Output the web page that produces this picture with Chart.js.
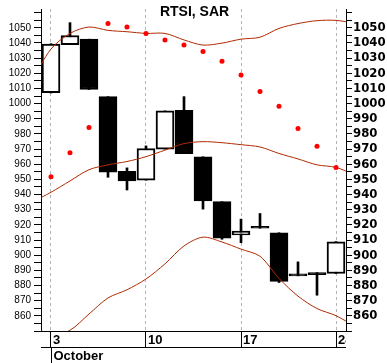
<!DOCTYPE html>
<html>
<head>
<meta charset="utf-8">
<script src="https://cdn.jsdelivr.net/npm/chart.js@4.4.1/dist/chart.umd.min.js"></script>
<style>
  body { margin: 0; background: #fff; }
  #wrap { width: 387px; height: 363px; }
</style>
</head>
<body>
<div id="wrap"><canvas id="rtsiChart" width="387" height="363"></canvas></div>
<script>
// trading days of October, one slot per day
const days = ['3', '4', '5', '6', '7', '10', '11', '12', '13', '14', '17', '18', '19', '20', '21', '24'];
const openPrice  = [1007.2, 1038.9, 1042.5, 1004.6, 955.4, 949.5, 970.0, 995.5, 964.9, 935.3, 913.3, 919.1, 914.8, 887.7, 888.5, 887.9];
const closePrice = [1039.3, 1044.9, 1009.3, 954.8, 949.0, 970.4, 995.2, 967.0, 935.8, 911.2, 915.9, 917.8, 882.7, 886.4, 887.2, 908.8];
const highPrice  = [1039.5, 1053.4, 1042.5, 1004.6, 957.6, 972.1, 995.2, 1004.6, 964.9, 935.3, 923.8, 927.5, 914.8, 895.6, 888.5, 909.0];
const lowPrice   = [1007.0, 1038.9, 1009.3, 951.4, 943.0, 949.5, 970.0, 967.0, 930.4, 910.5, 908.2, 917.8, 882.0, 886.4, 873.6, 887.9];
const sar        = [951.7, 967.5, 984.2, 1052.8, 1050.6, 1046.3, 1042.0, 1038.6, 1034.3, 1027.9, 1018.9, 1008.0, 998.2, 983.6, 971.8, 957.9];

// bands run from Sep 30 (slot -1) to Oct 25 (slot 16), cut by the plot edges
const bandSlots = [-1, 0, 1, 2, 3, 4, 5, 6, 7, 8, 9, 10, 11, 12, 13, 14, 15, 16];
const upperBand  = [1015, 1036, 1046.3, 1050.5, 1048.3, 1047.4, 1046.3, 1046.3, 1042, 1038.6, 1039.9, 1042.5, 1043.8, 1049.6, 1052.8, 1054.7, 1054.9, 1053];
const middleBand = [935, 941.5, 949, 956.4, 959.6, 961.8, 965, 969.3, 973.6, 974.9, 974.2, 972.9, 971.4, 967.1, 963.5, 959.6, 957.9, 953];
const lowerBand  = [855, 847, 850.5, 861.2, 871.8, 877.2, 884.3, 894.3, 906.1, 911.9, 908.7, 904, 899.3, 884.7, 873, 864.8, 860.1, 853];

const dayTicks = [0, 5, 10, 15];
const dayTickLabels = ['3', '10', '17', '24'];
const monthLabel = 'October';
const priceLabels = [860, 870, 880, 890, 900, 910, 920, 930, 940, 950, 960, 970, 980, 990, 1000, 1010, 1020, 1030, 1040, 1050];
const title = 'RTSI, SAR';

const bandColor = '#b02a00';

const bodies = days.map((d, i) => ({ x: i, y: [openPrice[i], closePrice[i]] }));
const wicks = days.map((d, i) => ({ x: i, y: [lowPrice[i], highPrice[i]] }));
const sarPoints = days.map((d, i) => ({ x: i, y: sar[i] }));
const band = vals => bandSlots.map((s, i) => ({ x: s, y: vals[i] }));

function priceTickList(scale) {
  const list = [];
  for (let v = 850; v <= 1060; v += 5) list.push({ value: v });
  scale.ticks = list;
}

// title inside the plot, plus the date strip under the x axis
const extras = {
  id: 'extras',
  afterDraw(chart) {
    const { ctx, chartArea } = chart;
    const x = chart.scales.x;
    const top = chartArea.bottom;
    ctx.save();
    ctx.fillStyle = '#000';
    ctx.font = 'bold 14px "Liberation Sans", Arial, sans-serif';
    ctx.textAlign = 'center';
    ctx.textBaseline = 'alphabetic';
    ctx.fillText(title, (chartArea.left + chartArea.right) / 2 + 1, 16);

    ctx.strokeStyle = '#000';
    ctx.lineWidth = 1;
    ctx.beginPath();
    ctx.moveTo(chartArea.left, top + 16.5);
    ctx.lineTo(chartArea.right, top + 16.5);
    const m = Math.round(x.getPixelForValue(dayTicks[0])) + 0.5;
    ctx.moveTo(m, top + 16);
    ctx.lineTo(m, chart.height);
    ctx.stroke();

    ctx.beginPath();
    ctx.rect(chartArea.left, top, chartArea.right - chartArea.left, chart.height - top);
    ctx.clip();
    ctx.textAlign = 'left';
    ctx.textBaseline = 'middle';
    ctx.font = 'bold 13px "Liberation Sans", Arial, sans-serif';
    dayTicks.forEach((v, i) => {
      ctx.fillText(dayTickLabels[i], Math.round(x.getPixelForValue(v)) + 2, top + 9);
    });
    ctx.fillText(monthLabel, m + 2, top + 25);
    ctx.restore();
  }
};

const ctx = document.getElementById('rtsiChart').getContext('2d');
new Chart(ctx, {
  type: 'bar',
  data: {
    datasets: [
      {
        label: 'wick',
        data: wicks,
        backgroundColor: '#000',
        borderWidth: 0,
        barThickness: 2,
        grouped: false,
        order: 4
      },
      {
        label: 'body',
        data: bodies,
        backgroundColor: days.map((d, i) => closePrice[i] >= openPrice[i] ? '#fff' : '#000'),
        borderColor: '#000',
        borderWidth: 2,
        borderSkipped: false,
        barThickness: 18,
        grouped: false,
        order: 3
      },
      { type: 'line', label: 'upper', data: band(upperBand), borderColor: bandColor, borderWidth: 1, pointRadius: 0, tension: 0.3, order: 2 },
      { type: 'line', label: 'middle', data: band(middleBand), borderColor: bandColor, borderWidth: 1, pointRadius: 0, tension: 0.3, order: 2 },
      { type: 'line', label: 'lower', data: band(lowerBand), borderColor: bandColor, borderWidth: 1, pointRadius: 0, tension: 0.3, order: 2 },
      {
        type: 'line',
        label: 'SAR',
        data: sarPoints,
        showLine: false,
        pointRadius: 2.5,
        pointBackgroundColor: '#f00',
        pointBorderWidth: 0,
        order: 1
      }
    ]
  },
  options: {
    responsive: false,
    animation: false,
    layout: { padding: 0, autoPadding: false },
    plugins: { legend: { display: false }, tooltip: { enabled: false } },
    scales: {
      x: {
        type: 'linear',
        min: -0.526,
        max: 15.526,
        offset: false,
        afterBuildTicks: s => { s.ticks = dayTicks.map(v => ({ value: v })); },
        afterFit: s => { s.height = 32; },
        grid: {
          offset: false,
          color: '#b4b4b4',
          tickColor: '#000',
          tickLength: 16,
          tickBorderDash: []
        },
        border: { display: true, color: '#000', width: 1, dash: [3, 3] },
        ticks: { display: false }
      },
      y: {
        position: 'left',
        min: 850,
        max: 1062.4,
        afterBuildTicks: priceTickList,
        afterFit: s => { s.width = 41; },
        grid: { drawOnChartArea: false, tickLength: 7, tickColor: '#000' },
        border: { color: '#000', width: 1 },
        ticks: {
          autoSkip: false,
          padding: 3,
          color: '#000',
          font: { family: '"Liberation Sans", Arial, sans-serif', size: 10 },
          callback: v => priceLabels.includes(v) ? String(v) : ''
        }
      },
      y2: {
        position: 'right',
        min: 850,
        max: 1062.4,
        afterBuildTicks: priceTickList,
        afterFit: s => { s.width = 41; },
        grid: { drawOnChartArea: false, tickLength: 6, tickColor: '#000' },
        border: { color: '#000', width: 1 },
        ticks: {
          autoSkip: false,
          padding: 1,
          color: '#000',
          font: { family: '"Liberation Sans Narrow", "DejaVu Sans Condensed", sans-serif', size: 13, weight: 'bold' },
          callback: v => priceLabels.includes(v) ? String(v) : ''
        }
      }
    }
  },
  plugins: [extras]
});
</script>
</body>
</html>
